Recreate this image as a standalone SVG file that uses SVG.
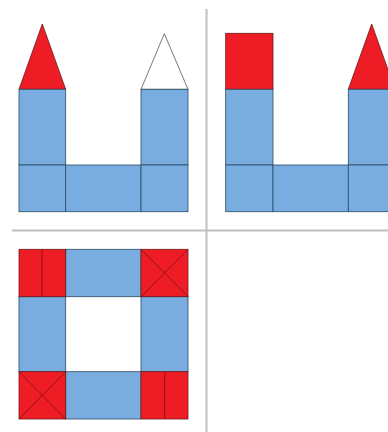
<svg xmlns="http://www.w3.org/2000/svg" width="388" height="432" viewBox="0 0 388 432">
<style>
.b{fill:#7aaddf;stroke:#2c4a66;stroke-width:0.8}
.r{fill:#ee1c25;stroke:#6b1a1a;stroke-width:0.8}
.w{fill:#fff;stroke:#555;stroke-width:0.8}
.l{stroke:#7a1010;stroke-width:0.8;fill:none}
.d{stroke:#c0c0c0;stroke-width:2;fill:none}
</style>
<rect width="388" height="432" fill="#fff"/>
<g id="dividers">
<line class="d" x1="12" y1="230.5" x2="388" y2="230.5"/>
<line class="d" x1="206.5" y1="9" x2="206.5" y2="432"/>
</g>
<g id="castle1">
<polygon class="r" points="19,89.3 42.3,24 65.7,89.3"/>
<polygon class="w" points="141,89.3 164.3,33.7 188,89.3"/>
<rect class="b" x="19" y="89.3" width="46.7" height="75.7"/>
<rect class="b" x="141" y="89.3" width="47" height="75.7"/>
<rect class="b" x="19" y="165" width="46.7" height="46.7"/>
<rect class="b" x="65.7" y="165" width="75.3" height="46.7"/>
<rect class="b" x="141" y="165" width="47" height="46.7"/>
</g>
<g id="castle2">
<rect class="r" x="225.7" y="33.3" width="47.3" height="56"/>
<polygon class="r" points="348.3,89.3 371.7,24 395,89.3"/>
<rect class="b" x="225.7" y="89.3" width="47.3" height="75.7"/>
<rect class="b" x="348.3" y="89.3" width="47" height="75.7"/>
<rect class="b" x="225.7" y="165" width="47.3" height="46.7"/>
<rect class="b" x="273" y="165" width="75.3" height="46.7"/>
<rect class="b" x="348.3" y="165" width="47" height="46.7"/>
</g>
<g id="ring">
<rect class="b" x="65.7" y="249.3" width="75.3" height="47.4"/>
<rect class="b" x="19" y="296.7" width="46.7" height="75"/>
<rect class="b" x="141" y="296.7" width="47" height="75"/>
<rect class="b" x="65.7" y="371.7" width="75.3" height="47.3"/>
<rect class="r" x="19" y="249.3" width="46.7" height="47.4"/>
<line class="l" x1="42" y1="249.3" x2="42" y2="296.7"/>
<rect class="r" x="141" y="249.3" width="47" height="47.4"/>
<line class="l" x1="141" y1="249.3" x2="188" y2="296.7"/>
<line class="l" x1="188" y1="249.3" x2="141" y2="296.7"/>
<rect class="r" x="19" y="371.7" width="46.7" height="47.3"/>
<line class="l" x1="19" y1="371.7" x2="65.7" y2="419"/>
<line class="l" x1="65.7" y1="371.7" x2="19" y2="419"/>
<rect class="r" x="141" y="371.7" width="47" height="47.3"/>
<line class="l" x1="164.7" y1="371.7" x2="164.7" y2="419"/>
</g>
</svg>
